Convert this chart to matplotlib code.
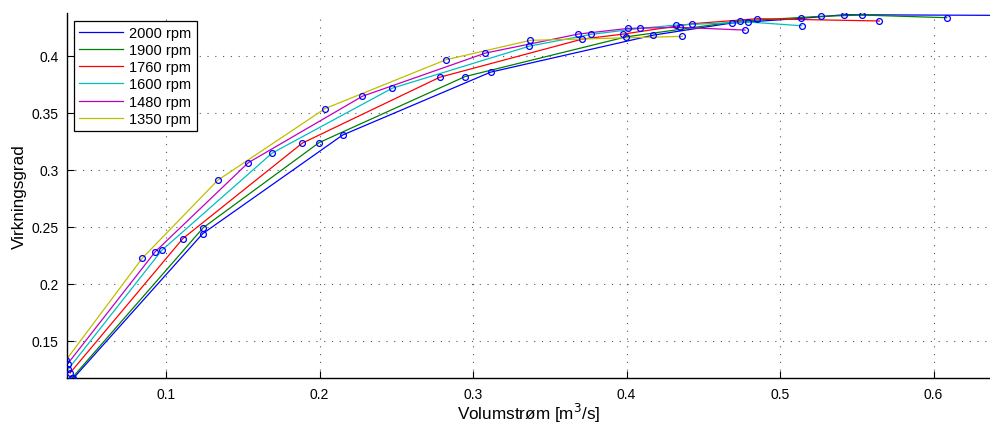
import matplotlib
matplotlib.use("Agg")
import matplotlib.pyplot as plt

plt.rcParams['font.family'] = ['Liberation Sans', 'DejaVu Sans']

labels = ['2000 rpm', '1900 rpm', '1760 rpm', '1600 rpm', '1480 rpm', '1350 rpm']
colors = [(0, 0, 1), (0, 0.5, 0), (1, 0, 0), (0, 0.75, 0.75), (0.75, 0, 0.75), (0.75, 0.75, 0)]

q_2000 = [0.0396, 0.1239, 0.2151, 0.3115, 0.4175, 0.4685, 0.5139, 0.5419, 0.70]
e_2000 = [0.1169, 0.2439, 0.3305, 0.3857, 0.4182, 0.4288, 0.4329, 0.4361, 0.4352]

q_1900 = [0.0388, 0.1243, 0.1997, 0.2948, 0.3999, 0.4739, 0.5267, 0.5534, 0.6086]
e_1900 = [0.1172, 0.2492, 0.3238, 0.3818, 0.4167, 0.4305, 0.4347, 0.4358, 0.4335]

q_1760 = [0.0375, 0.1109, 0.1888, 0.2783, 0.3712, 0.3979, 0.4429, 0.4852, 0.5647]
e_1760 = [0.1216, 0.2395, 0.3234, 0.3812, 0.4147, 0.4191, 0.4282, 0.4326, 0.4306]

q_1600 = [0.0364, 0.0972, 0.1691, 0.2474, 0.3367, 0.3767, 0.4088, 0.4322, 0.4794, 0.5141]
e_1600 = [0.1251, 0.2292, 0.3146, 0.3716, 0.4085, 0.4188, 0.4241, 0.4270, 0.4297, 0.4264]

q_1480 = [0.0360, 0.0930, 0.1536, 0.2279, 0.3080, 0.3686, 0.4012, 0.4351, 0.4772]
e_1480 = [0.1298, 0.2281, 0.3062, 0.3645, 0.4024, 0.4191, 0.4241, 0.4250, 0.4226]

q_1350 = [0.0349, 0.0846, 0.1337, 0.2036, 0.2822, 0.3373, 0.4364]
e_1350 = [0.1330, 0.2225, 0.2908, 0.3537, 0.3965, 0.4136, 0.4171]

series_q = [q_2000, q_1900, q_1760, q_1600, q_1480, q_1350]
series_e = [e_2000, e_1900, e_1760, e_1600, e_1480, e_1350]

xticks = [0.1, 0.2, 0.3, 0.4, 0.5, 0.6]
yticks = [0.15, 0.2, 0.25, 0.3, 0.35, 0.4]

fig = plt.figure(figsize=(9.9, 4.27), dpi=100)
ax = fig.add_axes([0.0674, 0.1117, 0.9326, 0.8555])

for q, e, c, lab in zip(series_q, series_e, colors, labels):
    ax.plot(q, e, '-', color=c, lw=0.9, label=lab)
for q, e in zip(series_q, series_e):
    ax.plot(q, e, 'o', color=(0, 0, 1), mfc='none', ms=4.2, mew=0.9, zorder=5)

ax.set_xlim(0.0353, 0.6368)
ax.set_ylim(0.1169, 0.4376)
ax.set_xticks(xticks)
ax.set_xticklabels([f"{t:g}" for t in xticks])
ax.set_yticks(yticks)
ax.set_yticklabels([f"{t:g}" for t in yticks])
ax.tick_params(direction='in', length=5, width=0.8, labelsize=10, pad=6)
ax.grid(True, linestyle=(0, (1, 6)), color='#555555', lw=0.8)
ax.spines['top'].set_visible(False)
ax.spines['right'].set_visible(False)
for s in ['left', 'bottom']:
    ax.spines[s].set_linewidth(1.0)

ax.set_xlabel('Volumstrøm [m$^3$/s]', fontsize=12.3, labelpad=0)
ax.set_ylabel('Virkningsgrad', fontsize=12.3)
ax.yaxis.set_label_coords(-0.043, 0.5)

leg = ax.legend(loc='upper left', bbox_to_anchor=(0.0079, 0.979), borderaxespad=0,
                fancybox=False, edgecolor='black', framealpha=1, fontsize=10.5,
                handlelength=3.0, labelspacing=0.22, borderpad=0.35, handletextpad=0.45)
leg.get_frame().set_linewidth(0.9)

fig.savefig('out.png', dpi=100)
